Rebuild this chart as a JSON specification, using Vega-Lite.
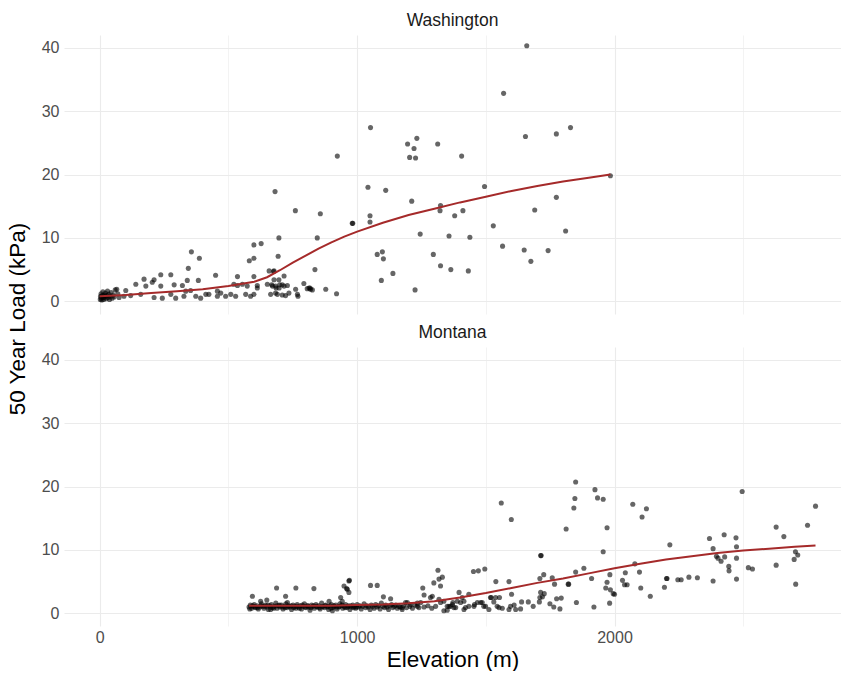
{
"$schema": "https://vega.github.io/schema/vega-lite/v6.json",
"padding": {"left": 6, "top": 11, "right": 0, "bottom": 0},
"background": "white",
"config": {"view": {"stroke": null}, "font": "Liberation Sans"},
"title": {"text": "50 Year Load (kPa)", "orient": "left", "anchor": "middle", "fontSize": 22.5, "fontWeight": "normal", "color": "#000000", "font": "Liberation Sans", "offset": 12, "dx": 22},
"data": {"values": [
{"s":"Washington","e":2,"l":0.3},{"s":"Washington","e":3,"l":0.8},{"s":"Washington","e":5,"l":1.2},{"s":"Washington","e":6,"l":0.5},{"s":"Washington","e":8,"l":0.2},{"s":"Washington","e":10,"l":0.9},{"s":"Washington","e":12,"l":1.5},{"s":"Washington","e":14,"l":0.6},{"s":"Washington","e":15,"l":0.3},{"s":"Washington","e":18,"l":1.0},{"s":"Washington","e":20,"l":0.7},{"s":"Washington","e":22,"l":1.3},{"s":"Washington","e":25,"l":0.4},{"s":"Washington","e":27,"l":0.9},{"s":"Washington","e":30,"l":1.6},{"s":"Washington","e":32,"l":0.6},{"s":"Washington","e":35,"l":1.1},{"s":"Washington","e":38,"l":0.3},{"s":"Washington","e":40,"l":0.8},{"s":"Washington","e":44,"l":1.4},{"s":"Washington","e":48,"l":0.5},{"s":"Washington","e":52,"l":1.0},{"s":"Washington","e":56,"l":0.7},{"s":"Washington","e":60,"l":1.8},{"s":"Washington","e":66,"l":1.9},{"s":"Washington","e":70,"l":1.2},{"s":"Washington","e":75,"l":0.6},
{"s":"Washington","e":94,"l":0.8},{"s":"Washington","e":101,"l":1.7},{"s":"Washington","e":120,"l":0.9},{"s":"Washington","e":140,"l":2.7},{"s":"Washington","e":159,"l":1.1},{"s":"Washington","e":172,"l":3.5},{"s":"Washington","e":179,"l":2.4},{"s":"Washington","e":204,"l":3.0},{"s":"Washington","e":211,"l":3.4},{"s":"Washington","e":211,"l":0.6},{"s":"Washington","e":237,"l":4.2},{"s":"Washington","e":237,"l":2.4},{"s":"Washington","e":243,"l":0.5},{"s":"Washington","e":276,"l":4.2},{"s":"Washington","e":276,"l":1.1},{"s":"Washington","e":289,"l":2.6},{"s":"Washington","e":295,"l":0.5},{"s":"Washington","e":321,"l":2.5},{"s":"Washington","e":327,"l":0.8},{"s":"Washington","e":334,"l":1.6},{"s":"Washington","e":340,"l":3.3},{"s":"Washington","e":344,"l":5.2},{"s":"Washington","e":353,"l":1.7},{"s":"Washington","e":356,"l":7.8},{"s":"Washington","e":383,"l":3.3},{"s":"Washington","e":387,"l":6.8},{"s":"Washington","e":373,"l":0.8},{"s":"Washington","e":392,"l":0.5},{"s":"Washington","e":412,"l":1.1},{"s":"Washington","e":424,"l":1.1},{"s":"Washington","e":450,"l":4.1},{"s":"Washington","e":457,"l":1.6},{"s":"Washington","e":470,"l":1.3},{"s":"Washington","e":457,"l":0.8},{"s":"Washington","e":489,"l":0.8},{"s":"Washington","e":509,"l":1.1},{"s":"Washington","e":521,"l":2.7},{"s":"Washington","e":528,"l":0.8},{"s":"Washington","e":535,"l":3.9},{"s":"Washington","e":535,"l":2.5},{"s":"Washington","e":554,"l":2.7},{"s":"Washington","e":567,"l":1.1},{"s":"Washington","e":573,"l":2.4},{"s":"Washington","e":586,"l":0.8},{"s":"Washington","e":599,"l":1.1},{"s":"Washington","e":581,"l":6.4},{"s":"Washington","e":599,"l":6.8},{"s":"Washington","e":599,"l":8.9},{"s":"Washington","e":627,"l":9.1},{"s":"Washington","e":599,"l":3.9},{"s":"Washington","e":612,"l":2.5},{"s":"Washington","e":612,"l":2.1},{"s":"Washington","e":651,"l":2.7},{"s":"Washington","e":658,"l":4.8},{"s":"Washington","e":664,"l":1.1},{"s":"Washington","e":668,"l":2.6},{"s":"Washington","e":671,"l":2.4},{"s":"Washington","e":675,"l":4.7},{"s":"Washington","e":677,"l":4.8},{"s":"Washington","e":677,"l":3.4},{"s":"Washington","e":681,"l":17.3},{"s":"Washington","e":683,"l":2.4},{"s":"Washington","e":683,"l":1.3},{"s":"Washington","e":685,"l":2.1},{"s":"Washington","e":690,"l":1.1},{"s":"Washington","e":693,"l":7.1},{"s":"Washington","e":696,"l":10.0},{"s":"Washington","e":697,"l":2.1},{"s":"Washington","e":699,"l":2.6},{"s":"Washington","e":696,"l":3.4},{"s":"Washington","e":709,"l":2.6},{"s":"Washington","e":709,"l":1.0},{"s":"Washington","e":716,"l":4.0},{"s":"Washington","e":716,"l":2.4},{"s":"Washington","e":722,"l":0.9},{"s":"Washington","e":729,"l":2.5},{"s":"Washington","e":735,"l":1.3},{"s":"Washington","e":760,"l":14.3},{"s":"Washington","e":761,"l":1.9},{"s":"Washington","e":768,"l":1.1},{"s":"Washington","e":770,"l":0.8},{"s":"Washington","e":793,"l":2.8},{"s":"Washington","e":806,"l":2.0},{"s":"Washington","e":813,"l":2.1},{"s":"Washington","e":817,"l":2.1},{"s":"Washington","e":819,"l":1.9},{"s":"Washington","e":826,"l":1.8},{"s":"Washington","e":836,"l":5.0},{"s":"Washington","e":845,"l":10.0},{"s":"Washington","e":857,"l":13.8},{"s":"Washington","e":878,"l":1.9},{"s":"Washington","e":920,"l":1.2},{"s":"Washington","e":923,"l":22.9},{"s":"Washington","e":981,"l":12.3},{"s":"Washington","e":983,"l":12.3},{"s":"Washington","e":1042,"l":18.0},{"s":"Washington","e":1050,"l":13.5},{"s":"Washington","e":1050,"l":12.5},{"s":"Washington","e":1052,"l":27.4},{"s":"Washington","e":1078,"l":7.4},{"s":"Washington","e":1094,"l":3.3},{"s":"Washington","e":1098,"l":7.8},{"s":"Washington","e":1102,"l":6.7},{"s":"Washington","e":1111,"l":17.5},{"s":"Washington","e":1139,"l":4.4},{"s":"Washington","e":1196,"l":24.8},{"s":"Washington","e":1204,"l":22.7},{"s":"Washington","e":1212,"l":15.8},{"s":"Washington","e":1221,"l":24.1},{"s":"Washington","e":1225,"l":1.8},{"s":"Washington","e":1227,"l":22.6},{"s":"Washington","e":1232,"l":25.7},{"s":"Washington","e":1245,"l":10.6},{"s":"Washington","e":1296,"l":7.4},{"s":"Washington","e":1313,"l":24.8},{"s":"Washington","e":1322,"l":14.3},{"s":"Washington","e":1324,"l":15.1},{"s":"Washington","e":1324,"l":5.6},{"s":"Washington","e":1357,"l":10.3},{"s":"Washington","e":1364,"l":5.0},{"s":"Washington","e":1379,"l":13.5},{"s":"Washington","e":1406,"l":22.9},{"s":"Washington","e":1411,"l":14.3},{"s":"Washington","e":1432,"l":4.8},{"s":"Washington","e":1438,"l":10.1},{"s":"Washington","e":1495,"l":18.1},{"s":"Washington","e":1529,"l":11.9},{"s":"Washington","e":1565,"l":8.7},{"s":"Washington","e":1569,"l":32.8},{"s":"Washington","e":1649,"l":8.1},{"s":"Washington","e":1654,"l":26.0},{"s":"Washington","e":1659,"l":40.3},{"s":"Washington","e":1675,"l":6.3},{"s":"Washington","e":1690,"l":14.4},{"s":"Washington","e":1742,"l":8.0},{"s":"Washington","e":1774,"l":16.4},{"s":"Washington","e":1774,"l":26.4},{"s":"Washington","e":1810,"l":11.1},{"s":"Washington","e":1829,"l":27.4},{"s":"Washington","e":1984,"l":19.8},
{"s":"Washington","e":0,"l":0.8,"k":"f"},{"s":"Washington","e":100,"l":1.0,"k":"f"},{"s":"Washington","e":200,"l":1.3,"k":"f"},{"s":"Washington","e":300,"l":1.6,"k":"f"},{"s":"Washington","e":400,"l":1.9,"k":"f"},{"s":"Washington","e":500,"l":2.4,"k":"f"},{"s":"Washington","e":600,"l":3.1,"k":"f"},{"s":"Washington","e":650,"l":3.8,"k":"f"},{"s":"Washington","e":700,"l":4.9,"k":"f"},{"s":"Washington","e":750,"l":6.1,"k":"f"},{"s":"Washington","e":800,"l":7.2,"k":"f"},{"s":"Washington","e":850,"l":8.3,"k":"f"},{"s":"Washington","e":900,"l":9.3,"k":"f"},{"s":"Washington","e":950,"l":10.2,"k":"f"},{"s":"Washington","e":1000,"l":11.0,"k":"f"},{"s":"Washington","e":1100,"l":12.4,"k":"f"},{"s":"Washington","e":1200,"l":13.6,"k":"f"},{"s":"Washington","e":1300,"l":14.6,"k":"f"},{"s":"Washington","e":1400,"l":15.6,"k":"f"},{"s":"Washington","e":1500,"l":16.5,"k":"f"},{"s":"Washington","e":1600,"l":17.4,"k":"f"},{"s":"Washington","e":1700,"l":18.2,"k":"f"},{"s":"Washington","e":1800,"l":18.9,"k":"f"},{"s":"Washington","e":1900,"l":19.5,"k":"f"},{"s":"Washington","e":1984,"l":20.0,"k":"f"},
{"s":"Montana","e":580,"l":1.0},{"s":"Montana","e":585,"l":1.3},{"s":"Montana","e":590,"l":0.8},{"s":"Montana","e":596,"l":1.1},{"s":"Montana","e":600,"l":1.4},{"s":"Montana","e":605,"l":0.9},{"s":"Montana","e":611,"l":1.2},{"s":"Montana","e":616,"l":0.7},{"s":"Montana","e":622,"l":1.0},{"s":"Montana","e":628,"l":1.5},{"s":"Montana","e":633,"l":1.1},{"s":"Montana","e":638,"l":0.8},{"s":"Montana","e":644,"l":1.3},{"s":"Montana","e":650,"l":1.0},{"s":"Montana","e":655,"l":0.6},{"s":"Montana","e":661,"l":1.2},{"s":"Montana","e":667,"l":1.4},{"s":"Montana","e":672,"l":0.9},{"s":"Montana","e":678,"l":1.1},{"s":"Montana","e":684,"l":1.6},{"s":"Montana","e":689,"l":0.8},{"s":"Montana","e":695,"l":1.2},{"s":"Montana","e":700,"l":1.0},{"s":"Montana","e":706,"l":1.3},{"s":"Montana","e":712,"l":0.7},{"s":"Montana","e":717,"l":1.1},{"s":"Montana","e":723,"l":1.5},{"s":"Montana","e":728,"l":0.9},{"s":"Montana","e":734,"l":1.2},{"s":"Montana","e":740,"l":1.0},{"s":"Montana","e":745,"l":0.6},{"s":"Montana","e":751,"l":1.3},{"s":"Montana","e":756,"l":1.1},{"s":"Montana","e":762,"l":0.8},{"s":"Montana","e":767,"l":1.4},{"s":"Montana","e":773,"l":1.0},{"s":"Montana","e":779,"l":1.2},{"s":"Montana","e":784,"l":0.7},{"s":"Montana","e":790,"l":1.1},{"s":"Montana","e":795,"l":1.5},{"s":"Montana","e":801,"l":0.9},{"s":"Montana","e":806,"l":1.2},{"s":"Montana","e":812,"l":1.0},{"s":"Montana","e":817,"l":0.5},{"s":"Montana","e":823,"l":1.3},{"s":"Montana","e":828,"l":1.1},{"s":"Montana","e":834,"l":0.8},{"s":"Montana","e":840,"l":1.4},{"s":"Montana","e":845,"l":1.0},{"s":"Montana","e":851,"l":1.2},{"s":"Montana","e":856,"l":0.7},{"s":"Montana","e":862,"l":1.6},{"s":"Montana","e":867,"l":1.1},{"s":"Montana","e":873,"l":0.9},{"s":"Montana","e":878,"l":1.3},{"s":"Montana","e":884,"l":1.0},{"s":"Montana","e":889,"l":0.6},{"s":"Montana","e":895,"l":1.2},{"s":"Montana","e":900,"l":1.4},{"s":"Montana","e":906,"l":0.9},{"s":"Montana","e":911,"l":1.1},{"s":"Montana","e":917,"l":1.3},{"s":"Montana","e":922,"l":0.7},{"s":"Montana","e":928,"l":1.0},{"s":"Montana","e":933,"l":1.5},{"s":"Montana","e":939,"l":1.2},{"s":"Montana","e":944,"l":0.8},{"s":"Montana","e":950,"l":1.1},{"s":"Montana","e":955,"l":1.4},{"s":"Montana","e":961,"l":0.9},{"s":"Montana","e":966,"l":1.2},{"s":"Montana","e":972,"l":0.6},{"s":"Montana","e":977,"l":1.0},{"s":"Montana","e":983,"l":1.3},{"s":"Montana","e":988,"l":1.1},{"s":"Montana","e":994,"l":0.8},{"s":"Montana","e":1000,"l":1.4},{"s":"Montana","e":1005,"l":1.0},{"s":"Montana","e":1011,"l":1.2},{"s":"Montana","e":1016,"l":0.7},{"s":"Montana","e":1022,"l":1.1},{"s":"Montana","e":1027,"l":1.5},{"s":"Montana","e":1033,"l":0.9},{"s":"Montana","e":1038,"l":1.2},{"s":"Montana","e":1044,"l":1.0},{"s":"Montana","e":1050,"l":0.6},{"s":"Montana","e":1055,"l":1.3},{"s":"Montana","e":1061,"l":1.1},{"s":"Montana","e":1066,"l":0.8},{"s":"Montana","e":1072,"l":1.4},{"s":"Montana","e":1078,"l":1.0},{"s":"Montana","e":1083,"l":1.2},{"s":"Montana","e":1089,"l":0.7},{"s":"Montana","e":1094,"l":1.6},{"s":"Montana","e":1100,"l":1.1},{"s":"Montana","e":1106,"l":0.9},{"s":"Montana","e":1111,"l":1.3},{"s":"Montana","e":1117,"l":1.0},{"s":"Montana","e":1122,"l":0.6},{"s":"Montana","e":1128,"l":1.2},{"s":"Montana","e":1134,"l":1.4},{"s":"Montana","e":1139,"l":0.9},{"s":"Montana","e":1145,"l":1.1},{"s":"Montana","e":1150,"l":1.3},{"s":"Montana","e":1156,"l":0.8},{"s":"Montana","e":1167,"l":1.0},{"s":"Montana","e":1180,"l":1.2},{"s":"Montana","e":1192,"l":0.9},{"s":"Montana","e":1205,"l":1.1},{"s":"Montana","e":1215,"l":0.8},{"s":"Montana","e":1225,"l":1.3},{"s":"Montana","e":1240,"l":0.9},{"s":"Montana","e":1260,"l":1.0},{"s":"Montana","e":1275,"l":1.2},{"s":"Montana","e":1290,"l":0.8},{"s":"Montana","e":1305,"l":1.1},
{"s":"Montana","e":583,"l":0.7},{"s":"Montana","e":593,"l":1.2},{"s":"Montana","e":603,"l":1.0},{"s":"Montana","e":613,"l":0.9},{"s":"Montana","e":626,"l":1.2},{"s":"Montana","e":641,"l":1.1},{"s":"Montana","e":653,"l":1.3},{"s":"Montana","e":664,"l":1.0},{"s":"Montana","e":676,"l":0.8},{"s":"Montana","e":687,"l":1.2},{"s":"Montana","e":698,"l":1.3},{"s":"Montana","e":709,"l":1.0},{"s":"Montana","e":720,"l":0.9},{"s":"Montana","e":731,"l":1.1},{"s":"Montana","e":743,"l":1.2},{"s":"Montana","e":754,"l":0.9},{"s":"Montana","e":765,"l":1.1},{"s":"Montana","e":776,"l":0.8},{"s":"Montana","e":787,"l":1.3},{"s":"Montana","e":798,"l":1.0},{"s":"Montana","e":809,"l":1.2},{"s":"Montana","e":820,"l":0.9},{"s":"Montana","e":831,"l":1.2},{"s":"Montana","e":842,"l":1.1},{"s":"Montana","e":853,"l":0.9},{"s":"Montana","e":864,"l":1.0},{"s":"Montana","e":876,"l":1.2},{"s":"Montana","e":887,"l":1.1},{"s":"Montana","e":898,"l":0.8},{"s":"Montana","e":909,"l":1.2},{"s":"Montana","e":920,"l":1.0},{"s":"Montana","e":931,"l":1.1},{"s":"Montana","e":942,"l":1.3},{"s":"Montana","e":953,"l":0.9},{"s":"Montana","e":964,"l":1.1},{"s":"Montana","e":975,"l":1.2},{"s":"Montana","e":986,"l":0.9},{"s":"Montana","e":997,"l":1.0},
{"s":"Montana","e":593,"l":2.7},{"s":"Montana","e":625,"l":1.9},{"s":"Montana","e":649,"l":2.1},{"s":"Montana","e":664,"l":0.6},{"s":"Montana","e":687,"l":4.0},{"s":"Montana","e":722,"l":2.7},{"s":"Montana","e":729,"l":1.7},{"s":"Montana","e":762,"l":4.0},{"s":"Montana","e":832,"l":3.9},{"s":"Montana","e":891,"l":1.9},{"s":"Montana","e":904,"l":0.4},{"s":"Montana","e":936,"l":2.5},{"s":"Montana","e":942,"l":1.9},{"s":"Montana","e":949,"l":4.3},{"s":"Montana","e":959,"l":3.9},{"s":"Montana","e":962,"l":3.8},{"s":"Montana","e":968,"l":5.1},{"s":"Montana","e":970,"l":5.2},{"s":"Montana","e":968,"l":3.3},{"s":"Montana","e":1052,"l":4.4},{"s":"Montana","e":1078,"l":4.4},{"s":"Montana","e":1102,"l":2.6},{"s":"Montana","e":1130,"l":2.3},{"s":"Montana","e":1162,"l":1.1},{"s":"Montana","e":1175,"l":0.9},{"s":"Montana","e":1175,"l":0.6},{"s":"Montana","e":1188,"l":1.7},{"s":"Montana","e":1195,"l":1.7},{"s":"Montana","e":1208,"l":1.4},{"s":"Montana","e":1234,"l":1.1},{"s":"Montana","e":1234,"l":1.6},{"s":"Montana","e":1247,"l":1.7},{"s":"Montana","e":1255,"l":4.0},{"s":"Montana","e":1260,"l":2.9},{"s":"Montana","e":1285,"l":2.5},{"s":"Montana","e":1292,"l":2.7},{"s":"Montana","e":1298,"l":4.8},{"s":"Montana","e":1314,"l":6.8},{"s":"Montana","e":1318,"l":5.4},{"s":"Montana","e":1318,"l":2.2},{"s":"Montana","e":1324,"l":1.7},{"s":"Montana","e":1331,"l":5.7},{"s":"Montana","e":1324,"l":4.3},{"s":"Montana","e":1337,"l":0.4},{"s":"Montana","e":1337,"l":1.9},{"s":"Montana","e":1350,"l":1.1},{"s":"Montana","e":1350,"l":0.5},{"s":"Montana","e":1357,"l":1.1},{"s":"Montana","e":1363,"l":1.1},{"s":"Montana","e":1370,"l":1.4},{"s":"Montana","e":1372,"l":1.7},{"s":"Montana","e":1376,"l":0.9},{"s":"Montana","e":1383,"l":0.9},{"s":"Montana","e":1389,"l":1.9},{"s":"Montana","e":1396,"l":3.3},{"s":"Montana","e":1402,"l":1.7},{"s":"Montana","e":1408,"l":2.5},{"s":"Montana","e":1415,"l":1.9},{"s":"Montana","e":1415,"l":0.6},{"s":"Montana","e":1421,"l":0.9},{"s":"Montana","e":1434,"l":1.1},{"s":"Montana","e":1434,"l":3.0},{"s":"Montana","e":1452,"l":6.6},{"s":"Montana","e":1454,"l":1.1},{"s":"Montana","e":1456,"l":1.4},{"s":"Montana","e":1467,"l":1.7},{"s":"Montana","e":1471,"l":6.7},{"s":"Montana","e":1480,"l":1.7},{"s":"Montana","e":1486,"l":1.7},{"s":"Montana","e":1492,"l":1.1},{"s":"Montana","e":1496,"l":7.0},{"s":"Montana","e":1499,"l":1.1},{"s":"Montana","e":1512,"l":0.6},{"s":"Montana","e":1518,"l":2.5},{"s":"Montana","e":1521,"l":2.5},{"s":"Montana","e":1531,"l":1.8},{"s":"Montana","e":1538,"l":2.5},{"s":"Montana","e":1539,"l":5.0},{"s":"Montana","e":1544,"l":1.1},{"s":"Montana","e":1551,"l":0.9},{"s":"Montana","e":1553,"l":2.5},{"s":"Montana","e":1560,"l":17.4},{"s":"Montana","e":1564,"l":0.8},{"s":"Montana","e":1590,"l":0.6},{"s":"Montana","e":1590,"l":5.0},{"s":"Montana","e":1596,"l":1.1},{"s":"Montana","e":1599,"l":14.8},{"s":"Montana","e":1600,"l":3.0},{"s":"Montana","e":1610,"l":1.3},{"s":"Montana","e":1616,"l":0.6},{"s":"Montana","e":1635,"l":0.7},{"s":"Montana","e":1639,"l":1.8},{"s":"Montana","e":1665,"l":1.8},{"s":"Montana","e":1684,"l":1.1},{"s":"Montana","e":1710,"l":2.5},{"s":"Montana","e":1710,"l":5.5},{"s":"Montana","e":1713,"l":9.1},{"s":"Montana","e":1715,"l":9.1},{"s":"Montana","e":1713,"l":3.3},{"s":"Montana","e":1720,"l":2.6},{"s":"Montana","e":1708,"l":1.8},{"s":"Montana","e":1725,"l":6.1},{"s":"Montana","e":1727,"l":3.1},{"s":"Montana","e":1749,"l":1.5},{"s":"Montana","e":1758,"l":5.6},{"s":"Montana","e":1764,"l":1.0},{"s":"Montana","e":1767,"l":4.6},{"s":"Montana","e":1775,"l":2.3},{"s":"Montana","e":1788,"l":0.7},{"s":"Montana","e":1793,"l":2.4},{"s":"Montana","e":1812,"l":13.3},{"s":"Montana","e":1820,"l":4.6},{"s":"Montana","e":1822,"l":4.6},{"s":"Montana","e":1842,"l":16.6},{"s":"Montana","e":1846,"l":18.1},{"s":"Montana","e":1849,"l":20.7},{"s":"Montana","e":1849,"l":6.5},{"s":"Montana","e":1852,"l":1.7},{"s":"Montana","e":1881,"l":7.1},{"s":"Montana","e":1911,"l":5.5},{"s":"Montana","e":1920,"l":1.0},{"s":"Montana","e":1924,"l":19.5},{"s":"Montana","e":1934,"l":18.2},{"s":"Montana","e":1956,"l":18.0},{"s":"Montana","e":1956,"l":9.7},{"s":"Montana","e":1966,"l":4.0},{"s":"Montana","e":1971,"l":13.5},{"s":"Montana","e":1971,"l":4.9},{"s":"Montana","e":1981,"l":1.6},{"s":"Montana","e":1982,"l":6.1},{"s":"Montana","e":1984,"l":3.7},{"s":"Montana","e":1995,"l":3.1},{"s":"Montana","e":2000,"l":3.0},{"s":"Montana","e":2031,"l":5.2},{"s":"Montana","e":2039,"l":4.5},{"s":"Montana","e":2042,"l":6.4},{"s":"Montana","e":2049,"l":4.5},{"s":"Montana","e":2071,"l":17.2},{"s":"Montana","e":2079,"l":7.8},{"s":"Montana","e":2097,"l":6.5},{"s":"Montana","e":2102,"l":4.0},{"s":"Montana","e":2107,"l":15.2},{"s":"Montana","e":2124,"l":16.5},{"s":"Montana","e":2139,"l":2.7},{"s":"Montana","e":2194,"l":4.1},{"s":"Montana","e":2202,"l":5.5},{"s":"Montana","e":2204,"l":5.5},{"s":"Montana","e":2215,"l":10.8},{"s":"Montana","e":2246,"l":5.3},{"s":"Montana","e":2259,"l":5.3},{"s":"Montana","e":2289,"l":5.7},{"s":"Montana","e":2322,"l":5.6},{"s":"Montana","e":2369,"l":11.8},{"s":"Montana","e":2383,"l":10.2},{"s":"Montana","e":2383,"l":5.1},{"s":"Montana","e":2396,"l":9.0},{"s":"Montana","e":2402,"l":8.7},{"s":"Montana","e":2414,"l":8.2},{"s":"Montana","e":2426,"l":12.4},{"s":"Montana","e":2428,"l":8.9},{"s":"Montana","e":2444,"l":7.4},{"s":"Montana","e":2445,"l":6.7},{"s":"Montana","e":2472,"l":11.9},{"s":"Montana","e":2474,"l":10.5},{"s":"Montana","e":2474,"l":8.7},{"s":"Montana","e":2474,"l":5.4},{"s":"Montana","e":2496,"l":19.2},{"s":"Montana","e":2520,"l":7.2},{"s":"Montana","e":2536,"l":7.0},{"s":"Montana","e":2628,"l":13.6},{"s":"Montana","e":2628,"l":7.6},{"s":"Montana","e":2658,"l":12.1},{"s":"Montana","e":2698,"l":8.5},{"s":"Montana","e":2703,"l":9.7},{"s":"Montana","e":2704,"l":4.6},{"s":"Montana","e":2712,"l":9.2},{"s":"Montana","e":2750,"l":13.9},{"s":"Montana","e":2781,"l":16.9},
{"s":"Montana","e":580,"l":1.2,"k":"f"},{"s":"Montana","e":700,"l":1.2,"k":"f"},{"s":"Montana","e":800,"l":1.2,"k":"f"},{"s":"Montana","e":900,"l":1.2,"k":"f"},{"s":"Montana","e":1000,"l":1.3,"k":"f"},{"s":"Montana","e":1100,"l":1.4,"k":"f"},{"s":"Montana","e":1200,"l":1.6,"k":"f"},{"s":"Montana","e":1300,"l":1.9,"k":"f"},{"s":"Montana","e":1400,"l":2.5,"k":"f"},{"s":"Montana","e":1500,"l":3.2,"k":"f"},{"s":"Montana","e":1600,"l":4.0,"k":"f"},{"s":"Montana","e":1700,"l":4.8,"k":"f"},{"s":"Montana","e":1800,"l":5.5,"k":"f"},{"s":"Montana","e":1900,"l":6.3,"k":"f"},{"s":"Montana","e":2000,"l":7.1,"k":"f"},{"s":"Montana","e":2100,"l":7.8,"k":"f"},{"s":"Montana","e":2200,"l":8.5,"k":"f"},{"s":"Montana","e":2300,"l":9.0,"k":"f"},{"s":"Montana","e":2400,"l":9.5,"k":"f"},{"s":"Montana","e":2500,"l":9.9,"k":"f"},{"s":"Montana","e":2600,"l":10.2,"k":"f"},{"s":"Montana","e":2700,"l":10.5,"k":"f"},{"s":"Montana","e":2781,"l":10.7,"k":"f"}
]},
"facet": {"field": "s", "type": "nominal", "sort": ["Washington", "Montana"], "header": {"title": null, "labelFontSize": 17.5, "labelColor": "#1A1A1A", "labelFont": "Liberation Sans", "labelPadding": 6}},
"columns": 1,
"spacing": 9,
"spec": {
  "width": 777,
  "height": 279,
  "layer": [
    {
      "transform": [{"filter": "datum.k !== 'f'"}],
      "mark": {"type": "circle", "size": 26, "color": "black", "opacity": 0.6},
      "encoding": {
        "x": {"field": "e", "type": "quantitative", "title": "Elevation (m)",
          "scale": {"domain": [-139, 2880], "nice": false, "zero": false},
          "axis": {"values": [0, 500, 1000, 1500, 2000, 2500], "format": "d", "labelExpr": "datum.value % 1000 === 0 ? datum.label : ''", "domain": false, "ticks": false, "gridColor": "#EBEBEB", "gridWidth": {"condition": {"test": "datum.value % 1000 === 0", "value": 1.1}, "value": 0.6}, "labelFontSize": 16, "labelColor": "#4D4D4D", "labelPadding": 3, "labelFlush": false, "labelOverlap": false, "titleFontSize": 22.5, "titleFontWeight": "normal", "titleColor": "#000000", "titlePadding": 3}},
        "y": {"field": "l", "type": "quantitative", "title": null,
          "scale": {"domain": [-2, 42], "nice": false, "zero": false},
          "axis": {"values": [0, 5, 10, 15, 20, 25, 30, 35, 40], "labelExpr": "datum.value % 10 === 0 ? datum.label : ''", "domain": false, "ticks": false, "gridColor": "#EBEBEB", "gridWidth": {"condition": {"test": "datum.value % 10 === 0", "value": 1.1}, "value": 0.6}, "labelFontSize": 16, "labelColor": "#4D4D4D", "labelPadding": 5, "labelOverlap": false}}
      }
    },
    {
      "transform": [{"filter": "datum.k === 'f'"}],
      "mark": {"type": "line", "color": "#A52A2A", "strokeWidth": 2},
      "encoding": {
        "x": {"field": "e", "type": "quantitative"},
        "y": {"field": "l", "type": "quantitative"}
      }
    }
  ]
}
}
